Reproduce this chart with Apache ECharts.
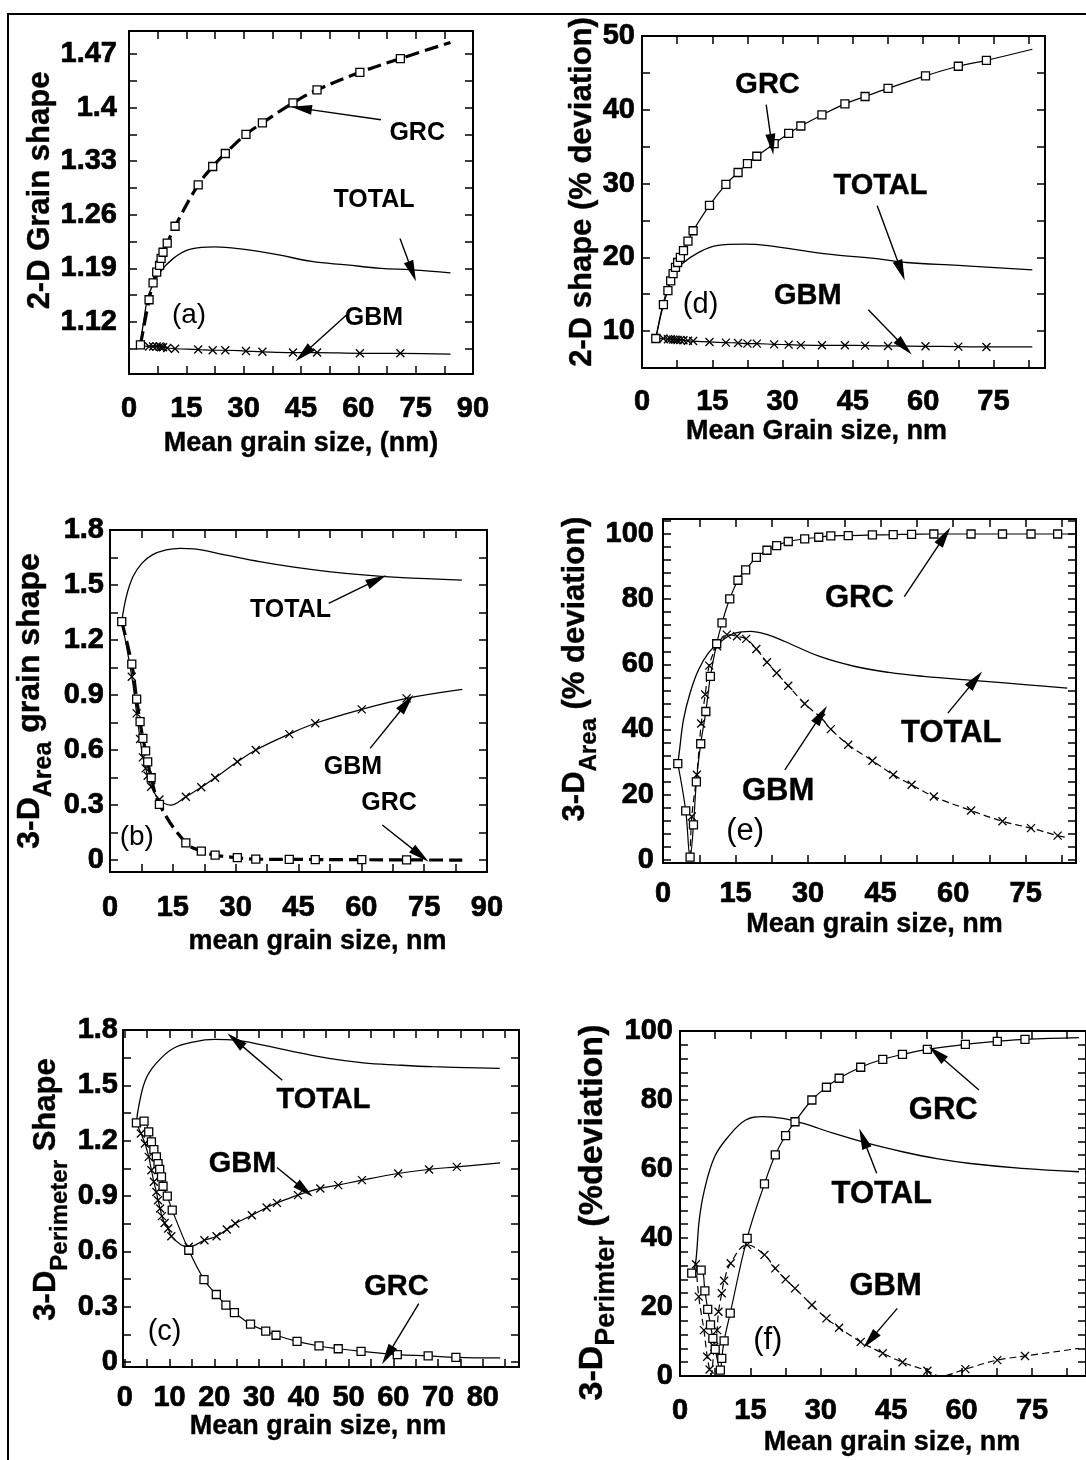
<!DOCTYPE html>
<html>
<head>
<meta charset="utf-8">
<script src="https://cdn.jsdelivr.net/npm/echarts@6.0.0/dist/echarts.min.js"></script>
<style>
  html, body { margin: 0; padding: 0; background: #fff; }
  #chart { width: 1086px; height: 1460px; }
</style>
</head>
<body>
<div id="chart"></div>
<script>
// (a) 2-D grain shape
const aX      = [3.0, 5.25, 6.3, 7.25, 8.0, 8.4, 8.9, 10.0, 12.05, 18.1, 21.9, 25.2, 30.6, 34.9, 42.9, 49.2, 60.4, 71.0, 84.1];
const aGRC    = [1.090, 1.149, 1.171, 1.185, 1.194, 1.203, 1.211, 1.223, 1.245, 1.299, 1.323, 1.340, 1.365, 1.380, 1.406, 1.423, 1.446, 1.464, 1.485];
const aGBM    = [1.090, 1.088, 1.088, 1.088, 1.088, 1.087, 1.087, 1.086, 1.085, 1.084, 1.083, 1.083, 1.082, 1.081, 1.080, 1.080, 1.079, 1.079, 1.078];
const aBare   = [84.1];
const aTotX   = [3.0, 3.9, 5.25, 8.0, 11.6, 16.1, 22.5, 29.7, 38.8, 47.8, 56.9, 65.9, 74.1, 84.1];
const aTotY   = [1.090, 1.123, 1.157, 1.184, 1.203, 1.215, 1.218, 1.215, 1.208, 1.199, 1.1945, 1.190, 1.188, 1.184];
const aXLabels = [0, 15, 30, 45, 60, 75, 90];
const aYLabels = [1.12, 1.19, 1.26, 1.33, 1.4, 1.47];

// (d) 2-D shape, % deviation
const dX      = [2.95, 4.57, 5.53, 6.12, 6.64, 7.15, 7.6, 8.19, 8.85, 9.81, 10.9, 14.4, 17.9, 20.5, 22.5, 24.5, 28.2, 31.3, 33.9, 38.4, 43.3, 47.6, 52.5, 60.5, 67.5, 73.5, 83.3];
const dGRC    = [9.0, 13.6, 15.5, 16.8, 17.8, 18.65, 19.3, 20.0, 20.9, 22.2, 23.6, 27.05, 29.9, 31.5, 32.7, 33.7, 35.4, 36.8, 37.8, 39.3, 40.8, 41.8, 42.9, 44.6, 45.9, 46.7, 48.2];
const dGBM    = [9.0, 9.0, 8.9, 8.9, 8.85, 8.85, 8.8, 8.8, 8.75, 8.7, 8.65, 8.53, 8.44, 8.4, 8.3, 8.3, 8.2, 8.17, 8.1, 8.08, 8.08, 8.03, 7.99, 7.94, 7.9, 7.85, 7.85];
const dBare   = [83.3];
const dTotX   = [2.95, 4.8, 6.6, 8.5, 12.2, 15.9, 21.8, 26.9, 34.3, 41.7, 49.0, 56.4, 67.5, 83.3];
const dTotY   = [9.0, 14.4, 17.5, 19.1, 20.7, 21.6, 21.8, 21.6, 20.9, 20.3, 19.9, 19.3, 18.9, 18.3];
const dXLabels = [0, 15, 30, 45, 60, 75];
const dYLabels = [10, 20, 30, 40, 50];

// (b) 3-D area grain shape
const bX      = [2.8, 5.2, 6.36, 7.18, 7.85, 8.5, 9.0, 9.83, 11.8, 18.1, 21.8, 25.1, 30.4, 34.8, 42.8, 49.0, 60.1, 70.8, 84.1];
const bGRC    = [1.30, 1.069, 0.878, 0.755, 0.664, 0.595, 0.536, 0.449, 0.304, 0.094, 0.049, 0.027, 0.013, 0.005, 0.004, 0.003, 0.002, 0.001, 0.0];
const bGBMX   = [2.8, 5.2, 6.36, 7.18, 7.85, 8.5, 9.0, 9.83, 11.8, 14.5, 18.1, 21.8, 25.1, 30.4, 34.8, 42.8, 49.0, 60.1, 70.8, 84.1];
const bGBM    = [1.30, 1.0, 0.80, 0.66, 0.56, 0.50, 0.46, 0.40, 0.33, 0.30, 0.345, 0.397, 0.449, 0.536, 0.600, 0.687, 0.746, 0.822, 0.882, 0.931];
const bBare   = [14.5, 84.1];
const bTotX   = [2.8, 3.9, 5.5, 7.6, 10.1, 13.4, 16.7, 20.0, 27.4, 35.7, 43.9, 52.2, 60.4, 68.7, 84.0];
const bTotY   = [1.30, 1.437, 1.546, 1.618, 1.664, 1.691, 1.70, 1.697, 1.664, 1.627, 1.597, 1.573, 1.555, 1.542, 1.527];
const bXLabels = [0, 15, 30, 45, 60, 75, 90];
const bYLabels = [0, 0.3, 0.6, 0.9, 1.2, 1.5, 1.8];

// (e) 3-D area, % deviation
const eX      = [3.06, 4.7, 5.6, 6.3, 6.9, 7.8, 8.86, 9.8, 11.1, 12.2, 13.8, 15.5, 17.1, 19.3, 21.5, 23.5, 25.9, 29.3, 32.2, 34.7, 38.3, 43.3, 47.6, 51.4, 56.0, 63.7, 70.2, 76.1, 81.6, 85.0];
const eGRC    = [29.5, 15.0, 0.8, 10.7, 23.9, 35.6, 45.5, 56.3, 66.3, 72.7, 80.1, 85.8, 89.0, 92.8, 95.0, 96.4, 97.7, 98.5, 99.0, 99.4, 99.5, 99.7, 99.8, 99.9, 100, 100, 100, 100, 100, 100];
const eBare   = [85.0];
const eGBMX   = [5.6, 5.96, 7.0, 7.9, 8.73, 9.56, 11.2, 13.2, 15.3, 17.2, 19.3, 21.5, 23.5, 25.9, 29.3, 32.7, 34.7, 38.3, 43.3, 47.6, 51.4, 56.0, 63.7, 70.2, 76.1, 81.6, 83.5];
const eGBM    = [0.8, 13.3, 26.1, 41.8, 50.7, 59.6, 65.5, 69.1, 68.6, 67.8, 64.7, 60.6, 57.3, 53.4, 47.9, 43.5, 40.1, 35.3, 30.4, 26.1, 23.0, 19.4, 15.1, 11.8, 9.7, 7.4, 6.8];
const eGBMBare = [5.6, 83.5];
const eTotX   = [3.06, 3.35, 4.24, 5.6, 7.35, 9.4, 11.5, 14.9, 18.05, 21.6, 25.2, 32.4, 39.5, 46.7, 53.9, 64.6, 75.4, 83.6];
const eTotY   = [29.5, 32.8, 43.0, 51.2, 58.3, 63.5, 66.5, 69.6, 70.1, 69.1, 67.0, 62.4, 59.4, 57.5, 56.3, 55.0, 53.7, 52.7];
const eXLabels = [0, 15, 30, 45, 60, 75];
const eYLabels = [0, 20, 40, 60, 80, 100];

// (c) 3-D perimeter shape
const cX      = [2.6, 4.3, 5.35, 5.95, 6.5, 7.06, 7.43, 7.8, 8.2, 8.55, 9.5, 10.6, 14.3, 17.7, 20.45, 22.6, 24.5, 28.1, 31.5, 33.8, 38.5, 43.4, 47.7, 52.8, 60.9, 67.8, 74.0, 83.9];
const cGRC    = [1.297, 1.306, 1.248, 1.194, 1.152, 1.112, 1.076, 1.044, 1.004, 0.953, 0.899, 0.823, 0.606, 0.447, 0.366, 0.308, 0.268, 0.205, 0.168, 0.145, 0.112, 0.087, 0.072, 0.058, 0.040, 0.033, 0.025, 0.022];
const cBare   = [83.9];
const cGBMX   = [2.6, 3.6, 4.5, 5.35, 5.95, 6.5, 7.06, 7.43, 7.9, 8.3, 8.9, 9.7, 10.4, 12.6, 14.3, 17.8, 20.5, 22.8, 24.7, 28.4, 31.7, 34.0, 38.7, 43.7, 47.7, 53.0, 61.1, 68.0, 74.2, 83.9];
const cGBM    = [1.297, 1.239, 1.185, 1.112, 1.040, 0.977, 0.922, 0.877, 0.832, 0.791, 0.754, 0.724, 0.682, 0.635, 0.625, 0.660, 0.682, 0.718, 0.751, 0.796, 0.838, 0.863, 0.905, 0.941, 0.959, 0.986, 1.022, 1.044, 1.058, 1.080];
const cGBMBare = [2.6, 12.6, 83.9];
const cTotX   = [2.6, 3.1, 4.6, 7.0, 10.8, 15.5, 20.1, 24.7, 30.9, 37.9, 45.6, 53.3, 61.0, 68.8, 83.8];
const cTotY   = [1.297, 1.384, 1.528, 1.619, 1.70, 1.736, 1.749, 1.745, 1.718, 1.682, 1.646, 1.622, 1.610, 1.601, 1.592];
const cXLabels = [0, 10, 20, 30, 40, 50, 60, 70, 80];
const cYLabels = [0, 0.3, 0.6, 0.9, 1.2, 1.5, 1.8];

// (f) 3-D perimeter, % deviation
const fX      = [2.5, 4.5, 5.3, 5.9, 6.5, 7.0, 7.5, 8.6, 8.9, 9.4, 10.7, 14.3, 18.0, 20.3, 22.5, 24.5, 28.1, 31.2, 33.9, 38.5, 43.2, 47.4, 52.7, 60.8, 67.6, 73.5, 85.0];
const fGRC    = [29.8, 30.7, 24.7, 19.3, 14.8, 10.9, 7.7, 1.7, 5.1, 10.2, 18.2, 39.9, 55.7, 64.1, 69.7, 73.7, 80.0, 83.7, 86.3, 89.5, 91.8, 93.2, 94.7, 96.1, 97.0, 97.6, 98.1];
const fBare   = [85.0];
const fGBMX   = [3.4, 4.0, 5.1, 5.8, 6.3, 6.6, 7.3, 7.9, 8.2, 8.9, 9.4, 10.8, 14.3, 18.0, 20.3, 22.5, 24.5, 28.1, 31.2, 33.9, 38.5, 43.2, 47.4, 52.7, 55.5, 60.8, 67.6, 73.5, 85.0];
const fGBM    = [32.4, 23.0, 13.3, 5.6, 1.9, 0.3, 8.5, 13.3, 18.6, 24.0, 27.6, 32.7, 38.0, 35.1, 31.2, 28.0, 25.4, 20.6, 16.7, 14.0, 9.9, 6.6, 4.0, 1.5, 0.0, 2.0, 4.6, 5.8, 8.0];
const fGBMBare = [6.6, 55.5, 85.0];
const fTotX   = [2.8, 3.4, 4.1, 5.2, 7.4, 10.3, 14.0, 17.6, 21.9, 26.3, 32.8, 40.1, 47.4, 54.7, 61.9, 72.8, 85.0];
const fTotY   = [30.0, 33.6, 45.2, 53.9, 63.6, 69.4, 74.2, 75.2, 74.7, 73.2, 70.3, 67.4, 65.0, 63.0, 61.6, 60.2, 59.2];
const fXLabels = [0, 15, 30, 45, 60, 75];
const fYLabels = [0, 20, 40, 60, 80, 100];

// annotations: [text, x, y] and arrows [[from], [tip]] in data units
const aNotes  = [['GRC', 75.4, 1.366], ['TOTAL', 64.1, 1.279], ['GBM', 64.1, 1.125], ['(a)', 15.7, 1.129]];
const aArrows = [[[65.9, 1.384], [45.1, 1.399]], [[70.9, 1.229], [74.1, 1.186]], [[56.9, 1.129], [45.6, 1.078]]];
const dNotes  = [['GRC', 26.8, 43.4], ['TOTAL', 50.9, 29.7], ['GBM', 35.4, 14.8], ['(d)', 12.5, 13.5]];
const dArrows = [[[26.5, 40.7], [27.7, 35.3]], [[50.2, 27.0], [55.3, 18.2]], [[48.3, 12.9], [56.0, 7.85]]];
const bNotes  = [['TOTAL', 43.1, 1.364], ['GBM', 58.0, 0.509], ['GRC', 66.6, 0.309], ['(b)', 6.4, 0.127]];
const bArrows = [[[52.2, 1.400], [63.7, 1.528]], [[62.1, 0.609], [70.8, 0.855]], [[65.0, 0.191], [74.1, 0.027]]];
const eNotes  = [['GRC', 40.6, 80.3], ['TOTAL', 59.6, 38.9], ['GBM', 23.8, 21.0], ['(e)', 17.0, 8.7]];
const eArrows = [[[49.9, 80.8], [58.2, 99.3]], [[58.9, 45.0], [64.6, 55.3]], [[25.2, 27.6], [32.7, 44.5]]];
const cNotes  = [['TOTAL', 44.4, 1.420], ['GBM', 26.3, 1.076], ['GRC', 60.7, 0.407], ['(c)', 8.9, 0.163]];
const cArrows = [[[35.2, 1.528], [24.7, 1.745]], [[34.0, 1.055], [40.2, 0.932]], [[65.7, 0.317], [58.7, 0.036]]];
const fNotes  = [['GRC', 56.1, 77.1], ['TOTAL', 43.0, 52.5], ['GBM', 43.8, 25.9], ['(f)', 18.7, 10.4]];
const fArrows = [[[63.7, 82.9], [54.7, 93.5]], [[41.9, 58.8], [39.0, 68.9]], [[46.3, 19.6], [40.5, 10.4]]];

const NARROW = '"Liberation Sans Narrow", "Arial Narrow", "Liberation Sans", Arial, sans-serif';
const SANS = '"Liberation Sans", Arial, Helvetica, sans-serif';
const XMARK = 'path://M0,0L10,10M10,0L0,10';

function steps(from, to, step) {
  const out = [];
  for (let v = from; v <= to + 1e-9; v += step) out.push(+v.toFixed(4));
  return out;
}
function pts(xs, ys, bare) {
  return xs.map((x, i) => (bare || []).includes(x) ? { value: [x, ys[i]], symbol: 'none' } : [x, ys[i]]);
}

const grids = [], xAxes = [], yAxes = [], series = [];

function panel(p) {
  const gi = grids.length;
  grids.push(Object.assign({ containLabel: false }, p.grid));
  const lineC = { show: true, onZero: false, lineStyle: { color: '#000', width: 2 } };
  const tick = (vals) => ({ show: true, inside: true, length: 8, customValues: vals, lineStyle: { color: '#000', width: 1.5 } });
  const lab = (vals, margin) => ({ show: true, customValues: vals, margin: margin, color: '#000',
    fontFamily: NARROW, fontWeight: 'bold', fontSize: 29, textBorderColor: '#000', textBorderWidth: 0.7 });
  const ty = p.y.font || 31;
  const xi = xAxes.length, yi = yAxes.length;
  xAxes.push({ type: 'value', gridIndex: gi, min: p.x.min, max: p.x.max, position: 'bottom',
    axisLine: lineC, axisTick: tick(p.x.ticks), axisLabel: lab(p.x.labels, p.x.margin), splitLine: { show: false },
    name: p.x.name, nameLocation: 'middle', nameGap: p.x.nameGap,
    nameTextStyle: { color: '#000', fontFamily: SANS, fontWeight: 'bold', fontSize: 27, padding: p.x.pad || 0,
      textBorderColor: '#000', textBorderWidth: 0.4 } });
  xAxes.push({ type: 'value', gridIndex: gi, min: p.x.min, max: p.x.max, position: 'top',
    axisLine: lineC, axisTick: tick(p.x.ticks), axisLabel: { show: false }, splitLine: { show: false } });
  yAxes.push({ type: 'value', gridIndex: gi, min: p.y.min, max: p.y.max, position: 'left',
    axisLine: lineC, axisTick: tick(p.y.ticks), axisLabel: lab(p.y.labels, p.y.margin), splitLine: { show: false },
    name: p.y.name, nameLocation: 'middle', nameGap: p.y.nameGap,
    nameTextStyle: { color: '#000', fontFamily: SANS, fontWeight: 'bold', fontSize: ty, padding: p.y.pad || 0,
      textBorderColor: '#000', textBorderWidth: 0.4,
      rich: {
        m: { fontFamily: SANS, fontWeight: 'bold', fontSize: ty, lineHeight: Math.round(ty * 1.65), verticalAlign: 'middle',
             color: '#000', textBorderColor: '#000', textBorderWidth: 0.4 },
        s: { fontFamily: SANS, fontWeight: 'bold', fontSize: Math.round(ty * 0.78), lineHeight: Math.round(ty * 1.05), verticalAlign: 'bottom',
             color: '#000', textBorderColor: '#000', textBorderWidth: 0.3 }
      } } });
  yAxes.push({ type: 'value', gridIndex: gi, min: p.y.min, max: p.y.max, position: 'right',
    axisLine: lineC, axisTick: tick(p.y.ticks), axisLabel: { show: false }, splitLine: { show: false } });

  const noteFont = p.narrowNotes
    ? { fontFamily: NARROW, fontSize: 25, fontWeight: 'bold' }
    : { fontFamily: SANS, fontSize: p.noteSize || 28, fontWeight: 'bold', textBorderColor: '#000', textBorderWidth: 0.4 };

  series.push({
    type: 'line', xAxisIndex: xi, yAxisIndex: yi, data: p.total, showSymbol: false, symbol: 'none',
    smooth: 0.4, lineStyle: { color: '#000', width: 1.3 }, z: 2, silent: true,
    markLine: {
      silent: true, animation: false, symbol: ['none', 'triangle'], symbolSize: [1, 16],
      label: { show: false }, lineStyle: { color: '#000', width: 1.4, type: 'solid' },
      data: p.arrows.map(a => [{ coord: a[0] }, { coord: a[1], symbolSize: [10, 21] }])
    },
    markPoint: {
      silent: true, animation: false, symbol: 'rect', symbolSize: 1, itemStyle: { color: 'rgba(0,0,0,0)' },
      label: Object.assign({ show: true, position: 'inside', formatter: '{b}', color: '#000' }, noteFont),
      data: p.notes.map(n => ({
        name: n[0], coord: [n[1], n[2]],
        label: n[0].startsWith('(') ? { fontFamily: SANS, fontWeight: 'normal', fontSize: p.noteSize || 28, textBorderWidth: 0 } : {}
      }))
    }
  });
  series.push({
    type: 'line', xAxisIndex: xi, yAxisIndex: yi, data: p.gbm, symbol: XMARK, symbolSize: 8, showAllSymbol: true,
    smooth: 0.4, z: 3, silent: true,
    lineStyle: { color: '#000', width: 1.2, type: p.gbmDash ? [7, 4] : 'solid' },
    itemStyle: { color: 'rgba(0,0,0,0)', borderColor: '#000', borderWidth: 1.3 }
  });
  series.push({
    type: 'line', xAxisIndex: xi, yAxisIndex: yi, data: p.grc, symbol: 'rect', symbolSize: 8, showAllSymbol: true,
    smooth: 0.4, z: 4, silent: true,
    lineStyle: p.grcDash ? { color: '#000', width: 3.2, type: [14, 6] } : { color: '#000', width: 1.2 },
    itemStyle: { color: '#fff', borderColor: '#000', borderWidth: 1.3 }
  });
}

panel({ grid: { left: 129, top: 31, width: 344, height: 343 },
  x: { min: 0, max: 90, ticks: steps(0, 90, 7.5), labels: aXLabels, margin: 20, name: 'Mean grain size, (nm)', nameGap: 56 },
  y: { min: 1.052, max: 1.5, ticks: steps(1.085, 1.47, 0.035), labels: aYLabels, margin: 12, name: '2-D Grain shape', nameGap: 72, pad: [0, 0, 0, 24] },
  grc: pts(aX, aGRC, aBare), gbm: pts(aX, aGBM, aBare), total: pts(aTotX, aTotY),
  notes: aNotes, arrows: aArrows, grcDash: true, narrowNotes: true });

panel({ grid: { left: 642, top: 36, width: 403, height: 332 },
  x: { min: 0, max: 86, ticks: steps(0, 82.5, 7.5), labels: dXLabels, margin: 19, name: 'Mean Grain size, nm', nameGap: 50, pad: [0, 54, 0, 0] },
  y: { min: 5, max: 50, ticks: steps(5, 50, 5), labels: dYLabels, margin: 7, name: '2-D shape (% deviation)', nameGap: 42, pad: [0, 0, 0, 20] },
  grc: pts(dX, dGRC, dBare), gbm: pts(dX, dGBM, dBare), total: pts(dTotX, dTotY),
  notes: dNotes, arrows: dArrows, noteSize: 29 });

panel({ grid: { left: 110, top: 530, width: 377, height: 342 },
  x: { min: 0, max: 90, ticks: steps(0, 90, 7.5), labels: bXLabels, margin: 21, name: 'mean grain size, nm', nameGap: 56, pad: [0, 0, 0, 38] },
  y: { min: -0.065, max: 1.8, ticks: steps(0, 1.8, 0.15), labels: bYLabels, margin: 6, name: '{m|3-D}{s|Area}{m| grain shape}', nameGap: 53, font: 32 },
  grc: pts(bX, bGRC, bBare), gbm: pts(bGBMX, bGBM, bBare), total: pts(bTotX, bTotY),
  notes: bNotes, arrows: bArrows, grcDash: true, narrowNotes: true });

panel({ grid: { left: 663, top: 519, width: 413, height: 344 },
  x: { min: 0, max: 85.4, ticks: steps(0, 82.5, 7.5), labels: eXLabels, margin: 16, name: 'Mean grain size, nm', nameGap: 48, pad: [0, 0, 0, 10] },
  y: { min: -1, max: 104.6, ticks: steps(0, 104, 4), labels: eYLabels, margin: 9, name: '{m|3-D}{s|Area}{m| (% deviation)}', nameGap: 57, pad: [0, 0, 0, 44] },
  grc: pts(eX, eGRC, eBare), gbm: pts(eGBMX, eGBM, eGBMBare), total: pts(eTotX, eTotY),
  notes: eNotes, arrows: eArrows, gbmDash: true, noteSize: 31 });

panel({ grid: { left: 123, top: 1030, width: 396, height: 337 },
  x: { min: -0.4, max: 88.1, ticks: steps(0, 85, 5), labels: cXLabels, margin: 16, name: 'Mean grain size, nm', nameGap: 46, pad: [0, 6, 0, 0] },
  y: { min: -0.027, max: 1.8, ticks: steps(0, 1.8, 0.15), labels: cYLabels, margin: 5, name: '{m|3-D}{s|Perimeter}{m| Shape}', nameGap: 51, pad: [0, 0, 0, 18] },
  grc: pts(cX, cGRC, cBare), gbm: pts(cGBMX, cGBM, cGBMBare), total: pts(cTotX, cTotY),
  notes: cNotes, arrows: cArrows, noteSize: 29 });

panel({ grid: { left: 680, top: 1031, width: 412, height: 345 },
  x: { min: 0, max: 86.5, ticks: steps(0, 82.5, 7.5), labels: fXLabels, margin: 20, name: 'Mean grain size, nm', nameGap: 53, pad: [0, 0, 0, 18] },
  y: { min: 0, max: 100, ticks: steps(0, 100, 4), labels: fYLabels, margin: 7, name: '{m|3-D}{s|Perimter}{m| (%deviation)}', nameGap: 56, font: 34, pad: [0, 18, 0, 0] },
  grc: pts(fX, fGRC, fBare), gbm: pts(fGBMX, fGBM, fGBMBare), total: pts(fTotX, fTotY),
  notes: fNotes, arrows: fArrows, gbmDash: true, noteSize: 31 });

const chart = echarts.init(document.getElementById('chart'));
chart.setOption({
  animation: false,
  backgroundColor: '#fff',
  grid: grids,
  xAxis: xAxes,
  yAxis: yAxes,
  series: series,
  graphic: [{
    type: 'rect', silent: true, z: 0,
    shape: { x: 8, y: 14, width: 1200, height: 1600 },
    style: { fill: 'none', stroke: '#000', lineWidth: 2 }
  }]
});
</script>
</body>
</html>
